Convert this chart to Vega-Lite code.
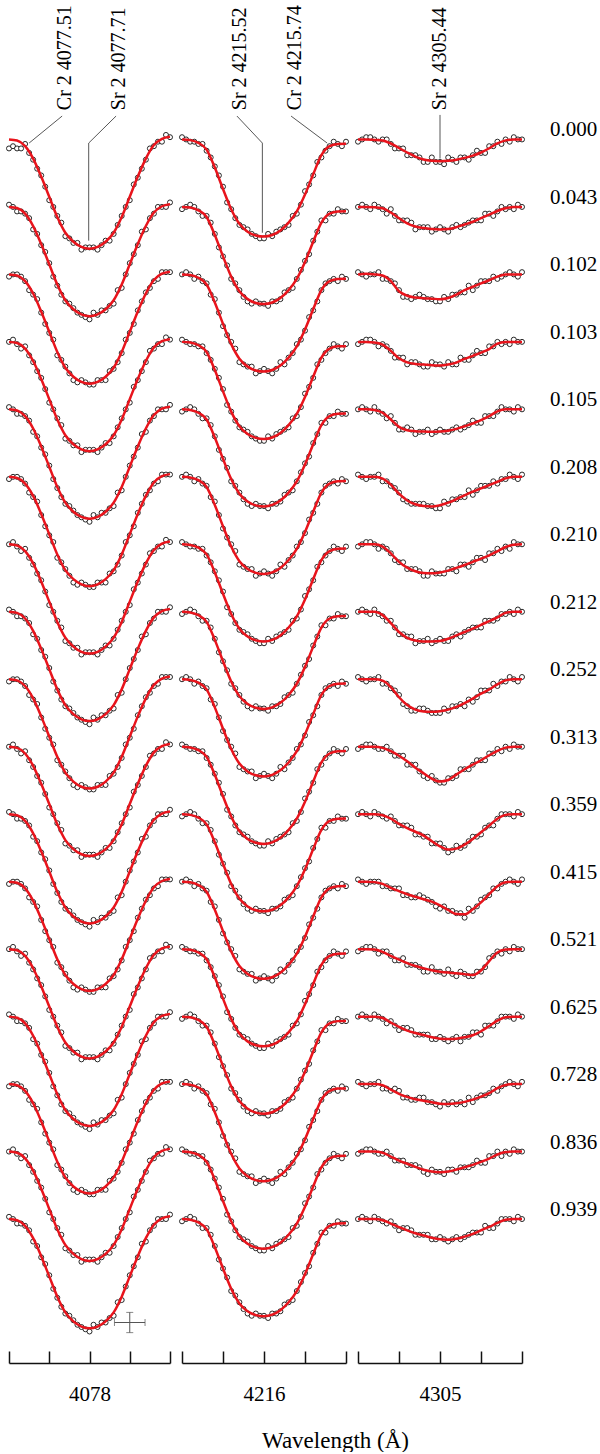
{
"$schema":"https://vega.github.io/schema/vega-lite/v6.json",
"padding":{"left":4,"top":0,"right":80,"bottom":0},
"background":"white",
"bounds":"flush",
"spacing":12,
"config":{"view":{"stroke":null},"font":"Liberation Serif","axis":{"labelFont":"Liberation Serif","titleFont":"Liberation Serif"}},
"datasets":{
"grid":[
{"p":"a","xo":[4077,4077.05,4077.1,4077.15,4077.2,4077.25,4077.3,4077.35,4077.4,4077.45,4077.5,4077.55,4077.6,4077.65,4077.7,4077.75,4077.8,4077.85,4077.9,4077.95,4078,4078.05,4078.1,4078.15,4078.2,4078.25,4078.3,4078.35,4078.4,4078.45,4078.5,4078.55,4078.6,4078.65,4078.7,4078.75,4078.8,4078.85,4078.9,4078.95,4079],"xm":[4077,4077.1,4077.2,4077.3,4077.4,4077.5,4077.6,4077.7,4077.8,4077.9,4078,4078.1,4078.2,4078.3,4078.4,4078.5,4078.6,4078.7,4078.8,4078.9,4079]},
{"p":"b","xo":[4215,4215.05,4215.1,4215.15,4215.2,4215.25,4215.3,4215.35,4215.4,4215.45,4215.5,4215.55,4215.6,4215.65,4215.7,4215.75,4215.8,4215.85,4215.9,4215.95,4216,4216.05,4216.1,4216.15,4216.2,4216.25,4216.3,4216.35,4216.4,4216.45,4216.5,4216.55,4216.6,4216.65,4216.7,4216.75,4216.8,4216.85,4216.9,4216.95,4217],"xm":[4215,4215.1,4215.2,4215.3,4215.4,4215.5,4215.6,4215.7,4215.8,4215.9,4216,4216.1,4216.2,4216.3,4216.4,4216.5,4216.6,4216.7,4216.8,4216.9,4217]},
{"p":"c","xo":[4304,4304.05,4304.1,4304.15,4304.2,4304.25,4304.3,4304.35,4304.4,4304.45,4304.5,4304.55,4304.6,4304.65,4304.7,4304.75,4304.8,4304.85,4304.9,4304.95,4305,4305.05,4305.1,4305.15,4305.2,4305.25,4305.3,4305.35,4305.4,4305.45,4305.5,4305.55,4305.6,4305.65,4305.7,4305.75,4305.8,4305.85,4305.9,4305.95,4306],"xm":[4304,4304.1,4304.2,4304.3,4304.4,4304.5,4304.6,4304.7,4304.8,4304.9,4305,4305.1,4305.2,4305.3,4305.4,4305.5,4305.6,4305.7,4305.8,4305.9,4306]}
],
"obs":[
{"p":"a","ph":"0.000","y":[96,97,96,96,98,94,91,87,84,79,73,70,66,63,57,56,54,54,51,52,52,52,51,53,55,55,58,62,66,70,73,80,83,87,91,96,97,99,99,102,101]},
{"p":"a","ph":"0.043","y":[71,70,68,68,67,65,60,58,53,50,45,39,35,31,28,27,25,23,22,21,20,23,22,24,24,26,27,33,34,40,45,49,53,59,60,65,67,70,70,70,72]},
{"p":"a","ph":"0.102","y":[39,40,40,39,37,33,31,29,23,18,14,11,4,2,-1,-4,-7,-8,-7,-8,-9,-9,-7,-7,-7,-3,-2,1,5,11,14,18,24,28,32,34,37,38,41,41,41]},
{"p":"a","ph":"0.103","y":[10,11,9,7,8,4,1,-3,-6,-11,-17,-20,-24,-27,-33,-34,-36,-36,-39,-38,-38,-38,-39,-37,-35,-35,-32,-28,-24,-20,-17,-10,-7,-3,1,6,7,9,9,12,11]},
{"p":"a","ph":"0.105","y":[-19,-20,-22,-22,-23,-25,-30,-32,-37,-40,-45,-51,-55,-59,-62,-63,-65,-67,-68,-69,-70,-67,-68,-66,-66,-64,-63,-57,-56,-50,-45,-41,-37,-31,-30,-25,-23,-20,-20,-20,-18]},
{"p":"a","ph":"0.208","y":[-51,-50,-50,-51,-53,-57,-59,-61,-67,-72,-76,-79,-86,-88,-91,-94,-97,-98,-97,-98,-99,-99,-97,-97,-97,-93,-92,-89,-85,-79,-76,-72,-66,-62,-58,-56,-53,-52,-49,-49,-49]},
{"p":"a","ph":"0.210","y":[-80,-79,-81,-83,-82,-86,-89,-93,-96,-101,-107,-110,-114,-117,-123,-124,-126,-126,-129,-128,-128,-128,-129,-127,-125,-125,-122,-118,-114,-110,-107,-100,-97,-93,-89,-84,-83,-81,-81,-78,-79]},
{"p":"a","ph":"0.212","y":[-109,-110,-112,-112,-113,-115,-120,-122,-127,-130,-135,-141,-145,-149,-152,-153,-155,-157,-158,-159,-160,-157,-158,-156,-156,-154,-153,-147,-146,-140,-135,-131,-127,-121,-120,-115,-113,-110,-110,-110,-108]},
{"p":"a","ph":"0.252","y":[-141,-140,-140,-141,-143,-147,-149,-151,-157,-162,-166,-169,-176,-178,-181,-184,-187,-188,-187,-188,-189,-189,-187,-187,-187,-183,-182,-179,-175,-169,-166,-162,-156,-152,-148,-146,-143,-142,-139,-139,-139]},
{"p":"a","ph":"0.313","y":[-170,-169,-171,-173,-172,-176,-179,-183,-186,-191,-197,-200,-204,-207,-213,-214,-216,-216,-219,-218,-218,-218,-219,-217,-215,-215,-212,-208,-204,-200,-197,-190,-187,-183,-179,-174,-173,-171,-171,-168,-169]},
{"p":"a","ph":"0.359","y":[-199,-200,-202,-202,-203,-205,-210,-212,-217,-220,-225,-231,-235,-239,-242,-243,-245,-247,-248,-249,-250,-247,-248,-246,-246,-244,-243,-237,-236,-230,-225,-221,-217,-211,-210,-205,-203,-200,-200,-200,-198]},
{"p":"a","ph":"0.415","y":[-231,-230,-230,-231,-233,-237,-239,-241,-247,-252,-256,-259,-266,-268,-271,-274,-277,-278,-277,-278,-279,-279,-277,-277,-277,-273,-272,-269,-265,-259,-256,-252,-246,-242,-238,-236,-233,-232,-229,-229,-229]},
{"p":"a","ph":"0.521","y":[-260,-259,-261,-263,-262,-266,-269,-273,-276,-281,-287,-290,-294,-297,-303,-304,-306,-306,-309,-308,-308,-308,-309,-307,-305,-305,-302,-298,-294,-290,-287,-280,-277,-273,-269,-264,-263,-261,-261,-258,-259]},
{"p":"a","ph":"0.625","y":[-289,-290,-292,-292,-293,-295,-300,-302,-307,-310,-315,-321,-325,-329,-332,-333,-335,-337,-338,-339,-340,-337,-338,-336,-336,-334,-333,-327,-326,-320,-315,-311,-307,-301,-300,-295,-293,-290,-290,-290,-288]},
{"p":"a","ph":"0.728","y":[-321,-320,-320,-321,-323,-327,-329,-331,-337,-342,-346,-349,-356,-358,-361,-364,-367,-368,-367,-368,-369,-369,-367,-367,-367,-363,-362,-359,-355,-349,-346,-342,-336,-332,-328,-326,-323,-322,-319,-319,-319]},
{"p":"a","ph":"0.836","y":[-350,-349,-351,-353,-352,-356,-359,-363,-366,-371,-377,-380,-384,-387,-393,-394,-396,-396,-399,-398,-398,-398,-399,-397,-395,-395,-392,-388,-384,-380,-377,-370,-367,-363,-359,-354,-353,-351,-351,-348,-349]},
{"p":"a","ph":"0.939","y":[-379,-380,-382,-382,-383,-385,-390,-392,-397,-400,-405,-411,-415,-419,-422,-423,-425,-427,-428,-429,-430,-427,-428,-426,-426,-424,-423,-417,-416,-410,-405,-401,-397,-391,-390,-385,-383,-380,-380,-380,-378]},
{"p":"b","ph":"0.000","y":[101,100,99,99,98,98,95,92,88,84,79,72,69,65,62,61,60,58,57,56,56,58,57,59,60,61,62,66,67,71,77,80,84,90,92,95,97,99,98,97,99]},
{"p":"b","ph":"0.043","y":[69,70,71,70,68,66,66,63,58,52,48,44,38,36,33,30,28,27,28,27,27,26,28,28,29,32,33,34,38,42,46,49,55,59,64,64,67,67,69,68,68]},
{"p":"b","ph":"0.102","y":[40,41,40,38,39,37,36,31,29,23,17,13,10,7,1,0,-1,-1,-4,-3,-2,-3,-4,-2,1,0,3,5,9,11,15,21,24,28,33,36,37,38,37,39,38]},
{"p":"b","ph":"0.103","y":[11,10,9,9,8,8,5,2,-2,-6,-11,-18,-21,-25,-28,-29,-30,-32,-33,-34,-34,-32,-33,-31,-30,-29,-28,-24,-23,-19,-13,-10,-6,0,2,5,7,9,8,7,9]},
{"p":"b","ph":"0.105","y":[-21,-20,-19,-20,-22,-24,-24,-27,-32,-38,-42,-46,-52,-54,-57,-60,-62,-63,-62,-63,-63,-64,-62,-62,-61,-58,-57,-56,-52,-48,-44,-41,-35,-31,-26,-26,-23,-23,-21,-22,-22]},
{"p":"b","ph":"0.208","y":[-50,-49,-50,-52,-51,-53,-54,-59,-61,-67,-73,-77,-80,-83,-89,-90,-91,-91,-94,-93,-92,-93,-94,-92,-89,-90,-87,-85,-81,-79,-75,-69,-66,-62,-57,-54,-53,-52,-53,-51,-52]},
{"p":"b","ph":"0.210","y":[-79,-80,-81,-81,-82,-82,-85,-88,-92,-96,-101,-108,-111,-115,-118,-119,-120,-122,-123,-124,-124,-122,-123,-121,-120,-119,-118,-114,-113,-109,-103,-100,-96,-90,-88,-85,-83,-81,-82,-83,-81]},
{"p":"b","ph":"0.212","y":[-111,-110,-109,-110,-112,-114,-114,-117,-122,-128,-132,-136,-142,-144,-147,-150,-152,-153,-152,-153,-153,-154,-152,-152,-151,-148,-147,-146,-142,-138,-134,-131,-125,-121,-116,-116,-113,-113,-111,-112,-112]},
{"p":"b","ph":"0.252","y":[-140,-139,-140,-142,-141,-143,-144,-149,-151,-157,-163,-167,-170,-173,-179,-180,-181,-181,-184,-183,-182,-183,-184,-182,-179,-180,-177,-175,-171,-169,-165,-159,-156,-152,-147,-144,-143,-142,-143,-141,-142]},
{"p":"b","ph":"0.313","y":[-169,-170,-171,-171,-172,-172,-175,-178,-182,-186,-191,-198,-201,-205,-208,-209,-210,-212,-213,-214,-214,-212,-213,-211,-210,-209,-208,-204,-203,-199,-193,-190,-186,-180,-178,-175,-173,-171,-172,-173,-171]},
{"p":"b","ph":"0.359","y":[-201,-200,-199,-200,-202,-204,-204,-207,-212,-218,-222,-226,-232,-234,-237,-240,-242,-243,-242,-243,-243,-244,-242,-242,-241,-238,-237,-236,-232,-228,-224,-221,-215,-211,-206,-206,-203,-203,-201,-202,-202]},
{"p":"b","ph":"0.415","y":[-230,-229,-230,-232,-231,-233,-234,-239,-241,-247,-253,-257,-260,-263,-269,-270,-271,-271,-274,-273,-272,-273,-274,-272,-269,-270,-267,-265,-261,-259,-255,-249,-246,-242,-237,-234,-233,-232,-233,-231,-232]},
{"p":"b","ph":"0.521","y":[-259,-260,-261,-261,-262,-262,-265,-268,-272,-276,-281,-288,-291,-295,-298,-299,-300,-302,-303,-304,-304,-302,-303,-301,-300,-299,-298,-294,-293,-289,-283,-280,-276,-270,-268,-265,-263,-261,-262,-263,-261]},
{"p":"b","ph":"0.625","y":[-291,-290,-289,-290,-292,-294,-294,-297,-302,-308,-312,-316,-322,-324,-327,-330,-332,-333,-332,-333,-333,-334,-332,-332,-331,-328,-327,-326,-322,-318,-314,-311,-305,-301,-296,-296,-293,-293,-291,-292,-292]},
{"p":"b","ph":"0.728","y":[-320,-319,-320,-322,-321,-323,-324,-329,-331,-337,-343,-347,-350,-353,-359,-360,-361,-361,-364,-363,-362,-363,-364,-362,-359,-360,-357,-355,-351,-349,-345,-339,-336,-332,-327,-324,-323,-322,-323,-321,-322]},
{"p":"b","ph":"0.836","y":[-349,-350,-351,-351,-352,-352,-355,-358,-362,-366,-371,-378,-381,-385,-388,-389,-390,-392,-393,-394,-394,-392,-393,-391,-390,-389,-388,-384,-383,-379,-373,-370,-366,-360,-358,-355,-353,-351,-352,-353,-351]},
{"p":"b","ph":"0.939","y":[-381,-380,-379,-380,-382,-384,-384,-387,-392,-398,-402,-406,-412,-414,-417,-420,-422,-423,-422,-423,-423,-424,-422,-422,-421,-418,-417,-416,-412,-408,-404,-401,-395,-391,-386,-386,-383,-383,-381,-382,-382]},
{"p":"c","ph":"0.000","y":[99,100,101,101,100,99,100,100,98,96,96,96,93,93,93,92,90,90,92,90,90,89,92,91,90,92,92,91,93,95,94,94,97,97,99,98,100,99,101,100,100]},
{"p":"c","ph":"0.043","y":[70,71,70,69,71,70,69,67,69,66,64,64,64,63,60,61,61,61,59,60,61,60,59,61,62,61,62,63,64,64,64,67,67,66,68,70,69,70,69,71,70]},
{"p":"c","ph":"0.102","y":[41,40,39,40,40,41,38,38,37,36,33,30,30,29,30,31,30,29,29,28,28,30,29,31,31,32,32,35,33,35,37,37,37,39,38,39,40,41,40,39,41]},
{"p":"c","ph":"0.103","y":[9,10,11,11,10,8,9,8,6,3,3,3,0,1,1,0,-1,-1,1,0,0,-1,1,0,0,3,2,2,4,6,5,5,8,8,10,9,10,9,11,10,10]},
{"p":"c","ph":"0.105","y":[-20,-19,-20,-21,-19,-21,-22,-24,-23,-26,-29,-29,-28,-29,-31,-30,-30,-29,-31,-30,-29,-30,-30,-29,-28,-29,-28,-27,-25,-26,-26,-23,-23,-23,-21,-19,-20,-20,-21,-19,-20]},
{"p":"c","ph":"0.208","y":[-49,-50,-51,-50,-50,-49,-52,-52,-54,-55,-57,-60,-61,-62,-62,-62,-62,-63,-63,-64,-64,-61,-62,-60,-60,-59,-59,-56,-58,-56,-54,-54,-54,-52,-53,-51,-51,-49,-50,-51,-49]},
{"p":"c","ph":"0.210","y":[-81,-80,-79,-79,-80,-82,-81,-82,-84,-87,-88,-88,-91,-91,-91,-92,-94,-94,-92,-93,-93,-93,-91,-91,-92,-89,-89,-90,-88,-86,-86,-87,-84,-84,-82,-83,-81,-82,-79,-80,-80]},
{"p":"c","ph":"0.212","y":[-110,-109,-110,-111,-109,-111,-112,-114,-114,-117,-120,-120,-121,-121,-124,-123,-123,-122,-124,-123,-122,-123,-123,-121,-120,-121,-119,-118,-117,-117,-117,-114,-114,-114,-113,-111,-111,-110,-111,-109,-110]},
{"p":"c","ph":"0.252","y":[-139,-140,-141,-140,-140,-139,-142,-142,-144,-145,-147,-151,-152,-154,-154,-153,-153,-154,-155,-155,-155,-153,-154,-152,-152,-151,-152,-149,-150,-148,-145,-145,-145,-142,-143,-141,-141,-139,-140,-141,-139]},
{"p":"c","ph":"0.313","y":[-171,-170,-169,-169,-170,-171,-171,-170,-172,-174,-174,-174,-178,-178,-178,-181,-183,-184,-183,-185,-186,-186,-184,-184,-183,-180,-180,-180,-178,-176,-176,-176,-173,-173,-171,-172,-170,-171,-169,-170,-170]},
{"p":"c","ph":"0.359","y":[-200,-199,-200,-201,-199,-200,-201,-202,-201,-203,-205,-205,-205,-206,-209,-209,-210,-210,-213,-213,-213,-215,-217,-216,-214,-215,-214,-212,-210,-210,-209,-206,-205,-205,-202,-200,-200,-200,-201,-199,-200]},
{"p":"c","ph":"0.415","y":[-229,-230,-231,-230,-230,-230,-232,-232,-233,-233,-233,-236,-236,-237,-237,-236,-237,-238,-239,-241,-242,-241,-243,-243,-244,-244,-246,-242,-243,-241,-238,-237,-236,-233,-233,-231,-230,-229,-230,-231,-229]},
{"p":"c","ph":"0.521","y":[-261,-260,-259,-259,-260,-262,-261,-261,-263,-265,-265,-264,-267,-267,-267,-268,-270,-270,-268,-270,-270,-271,-269,-271,-272,-270,-271,-272,-272,-270,-270,-268,-264,-263,-261,-262,-260,-261,-259,-260,-260]},
{"p":"c","ph":"0.625","y":[-290,-289,-290,-291,-289,-290,-291,-293,-292,-294,-296,-295,-295,-296,-298,-298,-298,-298,-300,-300,-299,-300,-301,-300,-299,-301,-299,-299,-297,-297,-298,-294,-294,-294,-292,-290,-290,-290,-291,-289,-290]},
{"p":"c","ph":"0.728","y":[-319,-320,-321,-320,-320,-319,-322,-322,-323,-322,-323,-326,-326,-327,-327,-326,-326,-328,-328,-329,-330,-328,-329,-328,-329,-328,-329,-326,-328,-326,-325,-325,-324,-322,-323,-321,-320,-319,-320,-321,-319]},
{"p":"c","ph":"0.836","y":[-351,-350,-349,-349,-350,-351,-351,-350,-352,-354,-354,-354,-356,-356,-356,-357,-359,-360,-358,-359,-359,-360,-358,-358,-359,-357,-357,-357,-356,-354,-355,-355,-352,-352,-350,-352,-350,-351,-349,-350,-350]},
{"p":"c","ph":"0.939","y":[-380,-379,-380,-381,-379,-380,-381,-382,-381,-383,-385,-384,-384,-385,-387,-387,-387,-387,-389,-389,-388,-389,-390,-389,-388,-389,-388,-387,-386,-386,-386,-383,-384,-384,-382,-380,-380,-380,-381,-379,-380]}
],
"mod":[
{"p":"a","ph":"0.000","y":[100,99.5,97,91.5,83.5,74.5,65.5,58.5,54.5,52.2,51.4,52.2,54.5,58.5,65.5,74.5,83.5,91.5,97.5,100.3,101.2]},
{"p":"a","ph":"0.043","y":[70,69.5,67,61.5,53.5,44.5,35.5,28.5,24.5,22.2,21.4,22.2,24.5,28.5,35.5,44.5,53.5,61.5,67.5,70.3,71.2]},
{"p":"a","ph":"0.102","y":[40,39.5,37,31.5,23.5,14.5,5.5,-1.5,-5.5,-7.8,-8.6,-7.8,-5.5,-1.5,5.5,14.5,23.5,31.5,37.5,40.3,41.2]},
{"p":"a","ph":"0.103","y":[10,9.5,7,1.5,-6.5,-15.5,-24.5,-31.5,-35.5,-37.8,-38.6,-37.8,-35.5,-31.5,-24.5,-15.5,-6.5,1.5,7.5,10.3,11.2]},
{"p":"a","ph":"0.105","y":[-20,-20.5,-23,-28.5,-36.5,-45.5,-54.5,-61.5,-65.5,-67.8,-68.6,-67.8,-65.5,-61.5,-54.5,-45.5,-36.5,-28.5,-22.5,-19.7,-18.8]},
{"p":"a","ph":"0.208","y":[-50,-50.5,-53,-58.5,-66.5,-75.5,-84.5,-91.5,-95.5,-97.8,-98.6,-97.8,-95.5,-91.5,-84.5,-75.5,-66.5,-58.5,-52.5,-49.7,-48.8]},
{"p":"a","ph":"0.210","y":[-80,-80.5,-83,-88.5,-96.5,-105.5,-114.5,-121.5,-125.5,-127.8,-128.6,-127.8,-125.5,-121.5,-114.5,-105.5,-96.5,-88.5,-82.5,-79.7,-78.8]},
{"p":"a","ph":"0.212","y":[-110,-110.5,-113,-118.5,-126.5,-135.5,-144.5,-151.5,-155.5,-157.8,-158.6,-157.8,-155.5,-151.5,-144.5,-135.5,-126.5,-118.5,-112.5,-109.7,-108.8]},
{"p":"a","ph":"0.252","y":[-140,-140.5,-143,-148.5,-156.5,-165.5,-174.5,-181.5,-185.5,-187.8,-188.6,-187.8,-185.5,-181.5,-174.5,-165.5,-156.5,-148.5,-142.5,-139.7,-138.8]},
{"p":"a","ph":"0.313","y":[-170,-170.5,-173,-178.5,-186.5,-195.5,-204.5,-211.5,-215.5,-217.8,-218.6,-217.8,-215.5,-211.5,-204.5,-195.5,-186.5,-178.5,-172.5,-169.7,-168.8]},
{"p":"a","ph":"0.359","y":[-200,-200.5,-203,-208.5,-216.5,-225.5,-234.5,-241.5,-245.5,-247.8,-248.6,-247.8,-245.5,-241.5,-234.5,-225.5,-216.5,-208.5,-202.5,-199.7,-198.8]},
{"p":"a","ph":"0.415","y":[-230,-230.5,-233,-238.5,-246.5,-255.5,-264.5,-271.5,-275.5,-277.8,-278.6,-277.8,-275.5,-271.5,-264.5,-255.5,-246.5,-238.5,-232.5,-229.7,-228.8]},
{"p":"a","ph":"0.521","y":[-260,-260.5,-263,-268.5,-276.5,-285.5,-294.5,-301.5,-305.5,-307.8,-308.6,-307.8,-305.5,-301.5,-294.5,-285.5,-276.5,-268.5,-262.5,-259.7,-258.8]},
{"p":"a","ph":"0.625","y":[-290,-290.5,-293,-298.5,-306.5,-315.5,-324.5,-331.5,-335.5,-337.8,-338.6,-337.8,-335.5,-331.5,-324.5,-315.5,-306.5,-298.5,-292.5,-289.7,-288.8]},
{"p":"a","ph":"0.728","y":[-320,-320.5,-323,-328.5,-336.5,-345.5,-354.5,-361.5,-365.5,-367.8,-368.6,-367.8,-365.5,-361.5,-354.5,-345.5,-336.5,-328.5,-322.5,-319.7,-318.8]},
{"p":"a","ph":"0.836","y":[-350,-350.5,-353,-358.5,-366.5,-375.5,-384.5,-391.5,-395.5,-397.8,-398.6,-397.8,-395.5,-391.5,-384.5,-375.5,-366.5,-358.5,-352.5,-349.7,-348.8]},
{"p":"a","ph":"0.939","y":[-380,-380.5,-383,-388.5,-396.5,-405.5,-414.5,-421.5,-425.5,-427.8,-428.6,-427.8,-425.5,-421.5,-414.5,-405.5,-396.5,-388.5,-382.5,-379.7,-378.8]},
{"p":"b","ph":"0.000","y":[100,99.7,98.5,95.5,87.5,78,69,62.5,59,57.3,56.8,57.5,59.5,63,68,75.5,84.5,93,97,98,98.1]},
{"p":"b","ph":"0.043","y":[70,69.7,68.5,65.5,57.5,48,39,32.5,29,27.3,26.8,27.5,29.5,33,38,45.5,54.5,63,67,68,68.1]},
{"p":"b","ph":"0.102","y":[40,39.7,38.5,35.5,27.5,18,9,2.5,-1,-2.7,-3.2,-2.5,-0.5,3,8,15.5,24.5,33,37,38,38.1]},
{"p":"b","ph":"0.103","y":[10,9.7,8.5,5.5,-2.5,-12,-21,-27.5,-31,-32.7,-33.2,-32.5,-30.5,-27,-22,-14.5,-5.5,3,7,8,8.1]},
{"p":"b","ph":"0.105","y":[-20,-20.3,-21.5,-24.5,-32.5,-42,-51,-57.5,-61,-62.7,-63.2,-62.5,-60.5,-57,-52,-44.5,-35.5,-27,-23,-22,-21.9]},
{"p":"b","ph":"0.208","y":[-50,-50.3,-51.5,-54.5,-62.5,-72,-81,-87.5,-91,-92.7,-93.2,-92.5,-90.5,-87,-82,-74.5,-65.5,-57,-53,-52,-51.9]},
{"p":"b","ph":"0.210","y":[-80,-80.3,-81.5,-84.5,-92.5,-102,-111,-117.5,-121,-122.7,-123.2,-122.5,-120.5,-117,-112,-104.5,-95.5,-87,-83,-82,-81.9]},
{"p":"b","ph":"0.212","y":[-110,-110.3,-111.5,-114.5,-122.5,-132,-141,-147.5,-151,-152.7,-153.2,-152.5,-150.5,-147,-142,-134.5,-125.5,-117,-113,-112,-111.9]},
{"p":"b","ph":"0.252","y":[-140,-140.3,-141.5,-144.5,-152.5,-162,-171,-177.5,-181,-182.7,-183.2,-182.5,-180.5,-177,-172,-164.5,-155.5,-147,-143,-142,-141.9]},
{"p":"b","ph":"0.313","y":[-170,-170.3,-171.5,-174.5,-182.5,-192,-201,-207.5,-211,-212.7,-213.2,-212.5,-210.5,-207,-202,-194.5,-185.5,-177,-173,-172,-171.9]},
{"p":"b","ph":"0.359","y":[-200,-200.3,-201.5,-204.5,-212.5,-222,-231,-237.5,-241,-242.7,-243.2,-242.5,-240.5,-237,-232,-224.5,-215.5,-207,-203,-202,-201.9]},
{"p":"b","ph":"0.415","y":[-230,-230.3,-231.5,-234.5,-242.5,-252,-261,-267.5,-271,-272.7,-273.2,-272.5,-270.5,-267,-262,-254.5,-245.5,-237,-233,-232,-231.9]},
{"p":"b","ph":"0.521","y":[-260,-260.3,-261.5,-264.5,-272.5,-282,-291,-297.5,-301,-302.7,-303.2,-302.5,-300.5,-297,-292,-284.5,-275.5,-267,-263,-262,-261.9]},
{"p":"b","ph":"0.625","y":[-290,-290.3,-291.5,-294.5,-302.5,-312,-321,-327.5,-331,-332.7,-333.2,-332.5,-330.5,-327,-322,-314.5,-305.5,-297,-293,-292,-291.9]},
{"p":"b","ph":"0.728","y":[-320,-320.3,-321.5,-324.5,-332.5,-342,-351,-357.5,-361,-362.7,-363.2,-362.5,-360.5,-357,-352,-344.5,-335.5,-327,-323,-322,-321.9]},
{"p":"b","ph":"0.836","y":[-350,-350.3,-351.5,-354.5,-362.5,-372,-381,-387.5,-391,-392.7,-393.2,-392.5,-390.5,-387,-382,-374.5,-365.5,-357,-353,-352,-351.9]},
{"p":"b","ph":"0.939","y":[-380,-380.3,-381.5,-384.5,-392.5,-402,-411,-417.5,-421,-422.7,-423.2,-422.5,-420.5,-417,-412,-404.5,-395.5,-387,-383,-382,-381.9]},
{"p":"c","ph":"0.000","y":[100,100,99.8,99.5,98.2,96.2,94.2,92.4,91.1,90.5,90.3,90.5,91,91.8,92.8,94.2,96.1,98.2,99.6,100,100]},
{"p":"c","ph":"0.043","y":[70,70,69.9,69.4,67.5,65,62.7,61.3,60.6,60.2,60,60.2,61,62.2,63.4,65,66.6,68.2,69.4,70,70]},
{"p":"c","ph":"0.102","y":[40,40.3,40,39.5,37,32.5,30.5,29.7,29.4,29.2,29,29.5,31,33,34.5,36,37.4,39,40,40,40]},
{"p":"c","ph":"0.103","y":[10,10,9.7,8.8,6,2.7,0.9,0.2,-0.1,-0.4,-0.5,-0.1,0.8,2.4,3.8,5.2,6.8,9.2,10,10,10]},
{"p":"c","ph":"0.105","y":[-20,-20,-20.3,-21.5,-24.5,-27.8,-29.3,-29.7,-29.9,-30,-29.9,-29.5,-28.7,-27.5,-26.3,-24.8,-23,-20.9,-20,-20,-20]},
{"p":"c","ph":"0.208","y":[-50,-50,-50,-50.8,-53.5,-57.5,-60.5,-62.2,-63,-63.2,-62.6,-61.5,-59.9,-58.2,-56.6,-55.1,-53.7,-52.2,-50.7,-50,-50]},
{"p":"c","ph":"0.210","y":[-80,-80,-80,-81,-84,-87.8,-90.4,-92,-92.8,-92.9,-92.5,-91.7,-90.5,-89.2,-87.8,-86.4,-84.9,-83.1,-81.2,-80.2,-80]},
{"p":"c","ph":"0.212","y":[-110,-110,-110,-111.5,-115,-119,-121.6,-122.8,-123.2,-123.2,-123,-122,-120.5,-119,-117.5,-115.8,-114.2,-112.5,-110.5,-110,-110]},
{"p":"c","ph":"0.252","y":[-140,-140,-140,-140.6,-143.5,-148,-151.5,-153.5,-154.3,-154.5,-154.2,-153.5,-152.3,-150.6,-148.6,-146.4,-144.5,-142.3,-140.5,-140,-140]},
{"p":"c","ph":"0.313","y":[-170,-170,-170,-170.5,-172,-174,-176.5,-179.3,-181.8,-184.2,-185.5,-184.8,-182.4,-180,-178,-176,-173.8,-171.8,-170.4,-170,-170]},
{"p":"c","ph":"0.359","y":[-200,-200,-200,-200.5,-202,-204.3,-206.2,-207.8,-209.5,-212,-214.3,-215.7,-215.3,-213.5,-211,-208,-205,-202,-200.3,-200,-200]},
{"p":"c","ph":"0.415","y":[-230,-230,-230.2,-231,-232.8,-234.2,-235.6,-236.7,-237.8,-238.9,-240.5,-242.6,-244.4,-244.5,-242.3,-239.2,-235.5,-232,-230.3,-230,-230]},
{"p":"c","ph":"0.521","y":[-260,-260,-260.2,-261.2,-263,-264.7,-266.2,-267.5,-268.5,-269.4,-270,-270.4,-270.7,-271.1,-271.5,-269.5,-265.3,-261.5,-260.2,-260,-260]},
{"p":"c","ph":"0.625","y":[-290,-290,-290,-290.6,-292.6,-294.6,-296.2,-297.3,-298.2,-299.2,-299.8,-300,-299.8,-299.2,-298.3,-296.5,-294.2,-291.8,-290.3,-290,-290]},
{"p":"c","ph":"0.728","y":[-320,-320,-320,-320.5,-322.5,-324.3,-325.7,-326.7,-327.4,-328.1,-328.7,-328.8,-328.5,-327.9,-326.9,-325.6,-324,-321.8,-320.4,-320,-320]},
{"p":"c","ph":"0.836","y":[-350,-350,-350,-350.5,-352.2,-354,-355.4,-356.8,-358.1,-358.9,-359.2,-358.9,-358,-357,-355.9,-354.6,-353.1,-351.3,-350.2,-350,-350]},
{"p":"c","ph":"0.939","y":[-380,-380,-380,-380.5,-382,-383.6,-385,-386.3,-387.3,-388.3,-389,-389.2,-388.8,-387.8,-386.6,-385,-383.5,-381.7,-380.3,-380,-380]}
]
},
"hconcat":[
{
"width":161,"height":1363,
"encoding":{
"x":{"field":"x","type":"quantitative","scale":{"domain":[4077,4079],"nice":false,"zero":false},
"axis":{"values":[4077,4077.5,4078,4078.5,4079],"labelExpr":"datum.value == 4078 ? '4078' : ''","title":null,"grid":false,"domainColor":"#111","domainWidth":1.5,"tickColor":"#111","tickWidth":1.5,"tickSize":-12,"labelFont":"Liberation Serif","labelFontSize":21,"labelColor":"#000","labelPadding":32,"labelFlush":false,"labelOverlap":false,"encode":{"labels":{"update":{"font":{"value":"Liberation Serif"},"fontSize":{"value":21}}},"ticks":{"update":{"y2":{"signal":"(datum.value == 4077.5 || datum.value == 4078.5) ? -6 : -12"}}}}}},
"y":{"field":"y","type":"quantitative","scale":{"domain":[-444,162],"nice":false,"zero":false},"axis":null}
},
"layer":[
{"data":{"name":"obs"},"transform":[{"filter":"datum.p == 'a'"},{"lookup":"p","from":{"data":{"name":"grid"},"key":"p","fields":["xo"]}},{"flatten":["xo","y"],"as":["x","y"]}],
"mark":{"type":"point","shape":"circle","size":25,"fill":"white","stroke":"#111","strokeWidth":0.9,"opacity":1,"fillOpacity":1}},
{"data":{"name":"mod"},"transform":[{"filter":"datum.p == 'a'"},{"lookup":"p","from":{"data":{"name":"grid"},"key":"p","fields":["xm"]}},{"flatten":["xm","y"],"as":["x","y"]}],
"mark":{"type":"line","color":"#e8141c","strokeWidth":2.5,"interpolate":"monotone"},"encoding":{"detail":{"field":"ph"}}},
{"data":{"values":[{"x":4077.66,"y":110.4,"x2":4077.25,"y2":98.4},{"x":4078.33,"y":110.4,"x2":4077.99,"y2":98.4},{"x":4077.99,"y":98.4,"x2":4077.99,"y2":55}]},
"mark":{"type":"rule","color":"#444","strokeWidth":0.9},"encoding":{"x2":{"field":"x2"},"y2":{"field":"y2"}}},
{"data":{"values":[{"x":4077.7,"y":113,"label":"Cr 2 4077.51"},{"x":4078.37,"y":113,"label":"Sr 2 4077.71"}]},
"mark":{"type":"text","angle":270,"align":"left","baseline":"middle","font":"Liberation Serif","fontSize":20,"color":"#000"},"encoding":{"text":{"field":"label"}}},
{"data":{"values":[{"x":4078.31,"x2":4078.69,"y":-426}]},
"mark":{"type":"errorbar","ticks":{"size":7},"color":"#555"},"encoding":{"x2":{"field":"x2"}}},
{"data":{"values":[{"x":4078.5,"y":-430.5,"y2":-421.5}]},
"mark":{"type":"errorbar","ticks":{"size":7},"color":"#555"},"encoding":{"y2":{"field":"y2"}}}
]
},
{
"width":164,"height":1363,
"encoding":{
"x":{"field":"x","type":"quantitative","scale":{"domain":[4215,4217],"nice":false,"zero":false},
"axis":{"values":[4215,4215.5,4216,4216.5,4217],"labelExpr":"datum.value == 4216 ? '4216' : ''","title":"Wavelength (Å)","titleX":153,"titleY":84,"titleAlign":"center","titleBaseline":"alphabetic","titleFont":"Liberation Serif","titleFontSize":23,"titleFontWeight":"normal","titleColor":"#000","grid":false,"domainColor":"#111","domainWidth":1.5,"tickColor":"#111","tickWidth":1.5,"tickSize":-12,"labelFont":"Liberation Serif","labelFontSize":21,"labelColor":"#000","labelPadding":32,"labelFlush":false,"labelOverlap":false,"encode":{"labels":{"update":{"font":{"value":"Liberation Serif"},"fontSize":{"value":21}}},"ticks":{"update":{"y2":{"signal":"(datum.value == 4215.5 || datum.value == 4216.5) ? -6 : -12"}}}}}},
"y":{"field":"y","type":"quantitative","scale":{"domain":[-444,162],"nice":false,"zero":false},"axis":null}
},
"layer":[
{"data":{"name":"obs"},"transform":[{"filter":"datum.p == 'b'"},{"lookup":"p","from":{"data":{"name":"grid"},"key":"p","fields":["xo"]}},{"flatten":["xo","y"],"as":["x","y"]}],
"mark":{"type":"point","shape":"circle","size":25,"fill":"white","stroke":"#111","strokeWidth":0.9,"opacity":1,"fillOpacity":1}},
{"data":{"name":"mod"},"transform":[{"filter":"datum.p == 'b'"},{"lookup":"p","from":{"data":{"name":"grid"},"key":"p","fields":["xm"]}},{"flatten":["xm","y"],"as":["x","y"]}],
"mark":{"type":"line","color":"#e8141c","strokeWidth":2.5,"interpolate":"monotone"},"encoding":{"detail":{"field":"ph"}}},
{"data":{"values":[{"x":4215.67,"y":110.4,"x2":4215.98,"y2":98.4},{"x":4215.98,"y":98.4,"x2":4215.98,"y2":58.5},{"x":4216.33,"y":110.4,"x2":4216.77,"y2":98.4}]},
"mark":{"type":"rule","color":"#444","strokeWidth":0.9},"encoding":{"x2":{"field":"x2"},"y2":{"field":"y2"}}},
{"data":{"values":[{"x":4215.71,"y":113,"label":"Sr 2 4215.52"},{"x":4216.38,"y":113,"label":"Cr 2 4215.74"}]},
"mark":{"type":"text","angle":270,"align":"left","baseline":"middle","font":"Liberation Serif","fontSize":20,"color":"#000"},"encoding":{"text":{"field":"label"}}}
]
},
{
"width":164,"height":1363,
"encoding":{
"x":{"field":"x","type":"quantitative","scale":{"domain":[4304,4306],"nice":false,"zero":false},
"axis":{"values":[4304,4304.5,4305,4305.5,4306],"labelExpr":"datum.value == 4305 ? '4305' : ''","title":null,"grid":false,"domainColor":"#111","domainWidth":1.5,"tickColor":"#111","tickWidth":1.5,"tickSize":-12,"labelFont":"Liberation Serif","labelFontSize":21,"labelColor":"#000","labelPadding":32,"labelFlush":false,"labelOverlap":false,"encode":{"labels":{"update":{"font":{"value":"Liberation Serif"},"fontSize":{"value":21}}},"ticks":{"update":{"y2":{"signal":"(datum.value == 4304.5 || datum.value == 4305.5) ? -6 : -12"}}}}}},
"y":{"field":"y","type":"quantitative","scale":{"domain":[-444,162],"nice":false,"zero":false},"axis":null}
},
"layer":[
{"data":{"name":"obs"},"transform":[{"filter":"datum.p == 'c'"},{"lookup":"p","from":{"data":{"name":"grid"},"key":"p","fields":["xo"]}},{"flatten":["xo","y"],"as":["x","y"]}],
"mark":{"type":"point","shape":"circle","size":25,"fill":"white","stroke":"#111","strokeWidth":0.9,"opacity":1,"fillOpacity":1}},
{"data":{"name":"mod"},"transform":[{"filter":"datum.p == 'c'"},{"lookup":"p","from":{"data":{"name":"grid"},"key":"p","fields":["xm"]}},{"flatten":["xm","y"],"as":["x","y"]}],
"mark":{"type":"line","color":"#e8141c","strokeWidth":2.5,"interpolate":"monotone"},"encoding":{"detail":{"field":"ph"}}},
{"data":{"values":[{"x":4305,"y":110.9,"x2":4305,"y2":91.5}]},
"mark":{"type":"rule","color":"#444","strokeWidth":0.9},"encoding":{"x2":{"field":"x2"},"y2":{"field":"y2"}}},
{"data":{"values":[{"x":4305,"y":113,"label":"Sr 2 4305.44"}]},
"mark":{"type":"text","angle":270,"align":"left","baseline":"middle","font":"Liberation Serif","fontSize":20,"color":"#000"},"encoding":{"text":{"field":"label"}}},
{"data":{"values":[{"ph":"0.000","x":4306,"y":100},{"ph":"0.043","x":4306,"y":70},{"ph":"0.102","x":4306,"y":40},{"ph":"0.103","x":4306,"y":10},{"ph":"0.105","x":4306,"y":-20},{"ph":"0.208","x":4306,"y":-50},{"ph":"0.210","x":4306,"y":-80},{"ph":"0.212","x":4306,"y":-110},{"ph":"0.252","x":4306,"y":-140},{"ph":"0.313","x":4306,"y":-170},{"ph":"0.359","x":4306,"y":-200},{"ph":"0.415","x":4306,"y":-230},{"ph":"0.521","x":4306,"y":-260},{"ph":"0.625","x":4306,"y":-290},{"ph":"0.728","x":4306,"y":-320},{"ph":"0.836","x":4306,"y":-350},{"ph":"0.939","x":4306,"y":-380}]},
"mark":{"type":"text","align":"left","baseline":"middle","dx":28,"dy":-9,"font":"Liberation Serif","fontSize":21,"color":"#000"},"encoding":{"text":{"field":"ph","type":"nominal"}}}
]
}
]
}
